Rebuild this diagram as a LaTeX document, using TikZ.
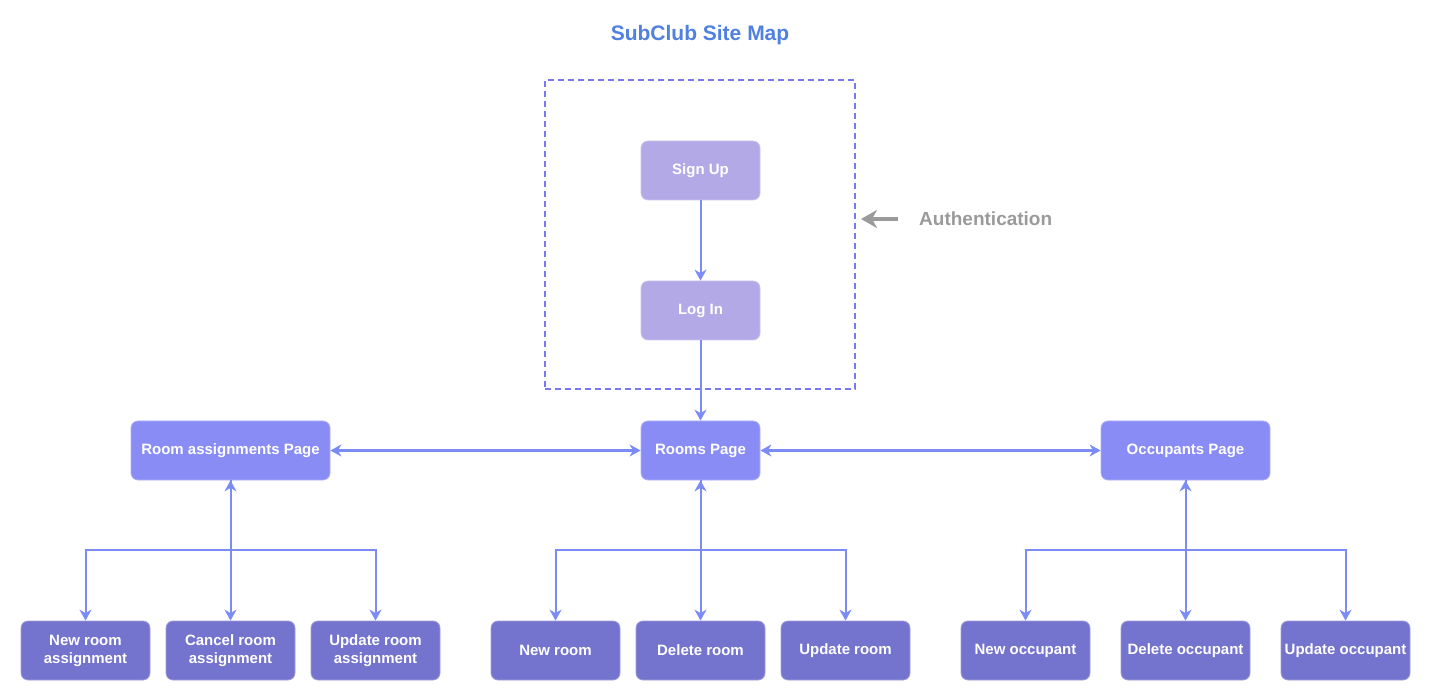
\documentclass[tikz,border=0pt]{standalone}
\usepackage{fontspec}
\setmainfont{Liberation Sans}
\usetikzlibrary{arrows.meta}
\definecolor{authfill}{HTML}{B3A9E7}
\definecolor{pagefill}{HTML}{8A8CF5}
\definecolor{leaffill}{HTML}{7473CD}
\definecolor{edgec}{HTML}{7B8CF6}
\definecolor{dashc}{HTML}{7878F0}
\definecolor{titlec}{HTML}{5080E0}
\definecolor{greyc}{HTML}{9A9A9A}
\tikzset{
  box/.style={rounded corners=7pt, text=white, align=center, inner sep=0pt,
    font=\fontsize{15}{18}\selectfont\bfseries, line width=0.8pt},
  authbox/.style={box, fill=authfill, draw=authfill!70!white, minimum width=119pt, minimum height=59pt},
  pagebox/.style={box, fill=pagefill, draw=pagefill!70!white, minimum height=59pt},
  leafbox/.style={box, fill=leaffill, draw=leaffill!70!white, minimum width=129pt, minimum height=59pt},
  conn/.style={draw=edgec, line width=2pt, -{Stealth[length=11pt,width=12pt,inset=3.5pt]}},
  conn2/.style={draw=edgec, line width=2pt, {Stealth[length=11pt,width=12pt,inset=3.5pt]}-{Stealth[length=11pt,width=12pt,inset=3.5pt]}},
}
\begin{document}
\begin{tikzpicture}[x=1pt,y=-1pt]
\useasboundingbox (0,0) rectangle (1430,700);
\node[text=titlec, font=\fontsize{21}{24}\selectfont\bfseries] (title) at (700,35) {SubClub Site Map};
\node[draw=dashc, line width=1.6pt, dash pattern=on 6pt off 4pt, minimum width=310pt, minimum height=309pt, inner sep=0pt] (authframe) at (700,234.5) {};
\node[authbox] (signup) at (700.5,170.5) {Sign Up};
\node[authbox] (login) at (700.5,310.5) {Log In};
\node[text=greyc, font=\fontsize{19}{22}\selectfont\bfseries, anchor=west, inner sep=0pt] (authlabel) at (919,219) {Authentication};
\coordinate (authtail) at (898,219);
\coordinate (authhead) at (861,219);
\draw[draw=greyc, line width=3.5pt, -{Stealth[length=16pt,width=18pt,inset=5pt]}] (authtail) -- (authhead);
\node[pagebox, minimum width=119pt] (rooms) at (700.5,450.5) {Rooms Page};
\node[pagebox, minimum width=199pt] (assign) at (230.5,450.5) {Room assignments Page};
\node[pagebox, minimum width=169pt] (occ) at (1185.5,450.5) {Occupants Page};
\node[leafbox] (newassign) at (85.5,650.5) {New room\\assignment};
\node[leafbox] (cancelassign) at (230.5,650.5) {Cancel room\\assignment};
\node[leafbox] (updassign) at (375.5,650.5) {Update room\\assignment};
\node[leafbox] (newroom) at (555.5,650.5) {New room};
\node[leafbox] (delroom) at (700.5,650.5) {Delete room};
\node[leafbox] (updroom) at (845.5,650.5) {Update room};
\node[leafbox] (newocc) at (1025.5,650.5) {New occupant};
\node[leafbox] (delocc) at (1185.5,650.5) {Delete occupant};
\node[leafbox] (updocc) at (1345.5,650.5) {Update occupant};
\draw[conn] (signup) -- (login);
\draw[conn] (login) -- (rooms);
\draw[conn2] (assign) -- (rooms);
\draw[conn2] (rooms) -- (occ);
\foreach \p/\l/\m/\r in {assign/newassign/cancelassign/updassign, rooms/newroom/delroom/updroom, occ/newocc/delocc/updocc}{
  \draw[conn] (\p.south) -- ++(0,70) -| (\l.north);
  \draw[conn] (\p.south) -- ++(0,70) -| (\r.north);
  \draw[conn2] (\p) -- (\m);
}
\end{tikzpicture}
\end{document}
